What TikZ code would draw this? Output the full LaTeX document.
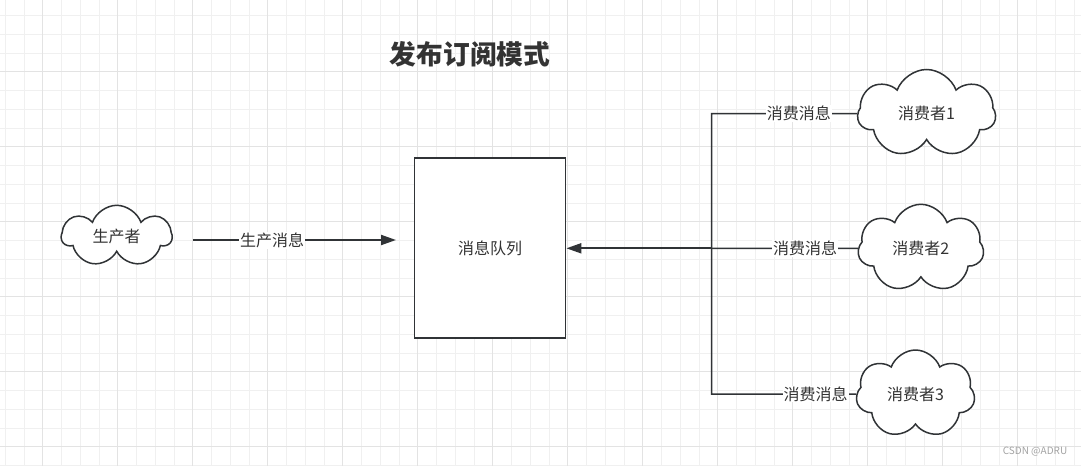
\documentclass[tikz,border=0pt]{standalone}
\usepackage{fontspec}
\usepackage{tikz}
\usetikzlibrary{arrows.meta,positioning,shapes.symbols}
\setmainfont{Noto Sans CJK SC}
\definecolor{ink}{HTML}{333333}
\definecolor{edge}{HTML}{303336}
\definecolor{gridmin}{HTML}{F0F0F0}
\definecolor{gridmaj}{HTML}{E3E3E3}
\definecolor{mark}{HTML}{A3A3A3}

\begin{document}
\begin{tikzpicture}[x=1pt,y=-1pt,>={Triangle[length=15pt,width=10pt]},
   puff/.style={cloud,cloud puffs=7,cloud puff arc=140,aspect=1.5,draw=edge,line width=1.5pt,fill=white,inner sep=0pt,text=ink,font=\fontsize{16}{18}\selectfont},
   box/.style={draw=edge,line width=1.8pt,fill=white,minimum width=151pt,minimum height=180pt,text=ink,font=\fontsize{16}{18}\selectfont},
   link/.style={draw=edge,line width=1.5pt},
   flow/.style={link,line width=2pt,->},
   tag/.style={fill=white,inner sep=1pt,text=ink,font=\fontsize{16}{18}\selectfont}]
  \useasboundingbox (0,0) rectangle (1081,466);
  \fill[white] (0,0) rectangle (1081,466);
  % grid paper
  \foreach \i in {0,...,57}{
     \draw[gridmin,line width=0.9pt] ({5.2+18.75*\i},0) -- ++(0,466);}
  \foreach \i in {1,...,25}{
     \draw[gridmin,line width=0.9pt] (0,{-3.3+18.75*\i}) -- ++(1081,0);}
  \foreach \i in {0,...,13}{
     \draw[gridmaj,line width=0.9pt] ({42.7+75*\i},0) -- ++(0,466);}
  \foreach \i in {1,...,6}{
     \draw[gridmaj,line width=0.9pt] (0,{-3.3+75*\i}) -- ++(1081,0);}

  \node[text=ink,font=\fontsize{26.7}{30}\selectfont\bfseries] (title) at (470,54) {发布订阅模式};
  \node[puff,minimum width=110pt,minimum height=60pt] (prod) at (116.7,236) {生产者};
  \node[box] (queue) at (490,248.3) {消息队列};
  \foreach \x/\y/\w [count=\i] in {926.6/113.5/138,920.9/248.3/126,915.5/394/119}{
     \node[puff,minimum width=\w pt,minimum height=88pt] (c\i) at (\x,\y) {消费者\i};}

  \coordinate (src) at (193,240);
  \coordinate (dst) at (396,240);
  \coordinate (bus) at (711.7,248.3);
  \draw[flow] (src) -- node[tag,pos=0.39]{生产消息} (dst);
  \draw[flow] (bus) -- (queue.east);
  \draw[link] (c1) -- node[tag,pos=0.4]{消费消息} (c1 -| bus) -- (c3 -| bus) -- node[tag,pos=0.72]{消费消息} (c3);
  \draw[link] (c2) -- node[tag,pos=0.36]{消费消息} (bus);

  \node[text=mark,font=\fontsize{10}{12}\selectfont] (wm) at (1035,452) {CSDN @ADRU};
\end{tikzpicture}
\end{document}
